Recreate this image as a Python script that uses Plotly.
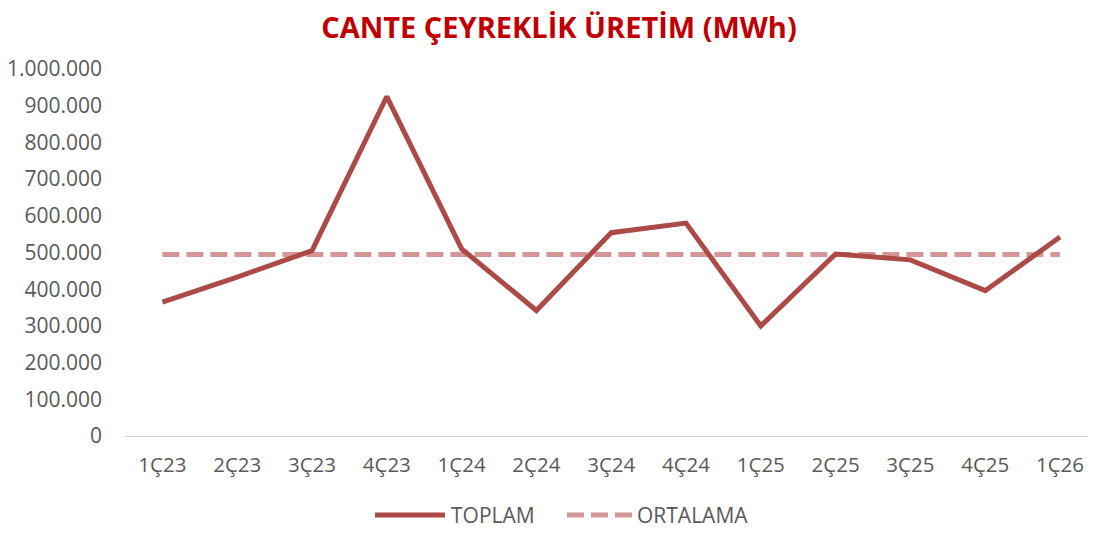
import plotly.graph_objects as go

categories = ["1Ç23", "2Ç23", "3Ç23", "4Ç23", "1Ç24", "2Ç24", "3Ç24", "4Ç24",
              "1Ç25", "2Ç25", "3Ç25", "4Ç25", "1Ç26"]
toplam = [365000, 433000, 505000, 925000, 510000, 342000, 554000, 580000,
          300000, 496000, 480000, 396000, 542000]
ortalama = [494500] * 13
y_ticks = [0, 100000, 200000, 300000, 400000, 500000, 600000, 700000, 800000, 900000, 1000000]
y_tick_labels = ["0", "100.000", "200.000", "300.000", "400.000", "500.000", "600.000",
                 "700.000", "800.000", "900.000", "1.000.000"]

C_TOP = "#AB4A47"
C_ORT = "#D49696"
FONT = "Open Sans"
GREY = "#595959"
FS = 21

fig = go.Figure()
fig.add_trace(go.Scatter(x=categories, y=ortalama, mode="lines", name="ORTALAMA",
                         line=dict(color=C_ORT, width=5, dash="17px,7px"),
                         showlegend=False))
fig.add_trace(go.Scatter(x=categories, y=toplam, mode="lines", name="TOPLAM",
                         line=dict(color=C_TOP, width=5),
                         showlegend=False))

# page body has an 8px margin: window coords = figure coords + 8
# keep figure inside the window (no scrollbars): 1080 x 520
W, H = 1080, 520
L, T = 117, 61
R, B = 0, 92
# plot area in window pixels: x 125..1088, y 69..436
PX0, PX1, PY0, PY1 = 125, 1088, 69, 436
STEP = 74.8  # category spacing in pixels
x_hi = -0.5 + (PX1 - PX0) / STEP


def px(x):
    return (x - PX0) / (PX1 - PX0)


def py(y):
    return (PY1 - y) / (PY1 - PY0)


LY = 515
shapes = [
    dict(type="line", xref="paper", yref="paper", x0=px(375), x1=px(445), y0=py(LY), y1=py(LY),
         line=dict(color=C_TOP, width=5)),
    dict(type="line", xref="paper", yref="paper", x0=px(567), x1=px(633), y0=py(LY), y1=py(LY),
         line=dict(color=C_ORT, width=5, dash="17px,7px")),
]
annotations = [
    dict(text="TOPLAM", xref="paper", yref="paper", x=px(449), y=py(LY), xanchor="left",
         yanchor="middle", showarrow=False, font=dict(family=FONT, size=FS, color=GREY)),
    dict(text="ORTALAMA", xref="paper", yref="paper", x=px(635), y=py(LY), xanchor="left",
         yanchor="middle", showarrow=False, font=dict(family=FONT, size=FS, color=GREY)),
]

fig.update_layout(
    width=W, height=H,
    margin=dict(l=L, r=R, t=T, b=B, autoexpand=False),
    paper_bgcolor="white", plot_bgcolor="white",
    separators=",.",
    title=dict(text="<b>CANTE ÇEYREKLİK ÜRETİM (MWh)</b>", x=551 / W, xref="container",
               xanchor="center", y=1 - 10 / H, yref="container", yanchor="top",
               pad=dict(t=0, b=0, l=0, r=0),
               font=dict(family=FONT, size=29, color="#C00000")),
    showlegend=False,
    shapes=shapes,
    annotations=annotations,
    xaxis=dict(type="category", range=[-0.5, x_hi], showgrid=False, zeroline=False,
               showline=True, linecolor="#D9D9D9", linewidth=1, ticks="",
               ticklabelstandoff=10, automargin=False,
               tickfont=dict(family=FONT, size=20.5, color=GREY)),
    yaxis=dict(range=[0, 1000000], showgrid=False, zeroline=False, showline=False,
               tickvals=y_ticks, ticktext=y_tick_labels, ticks="",
               ticklabelstandoff=22, automargin=False,
               tickfont=dict(family=FONT, size=FS, color=GREY)),
)

fig.write_html("out.html")
